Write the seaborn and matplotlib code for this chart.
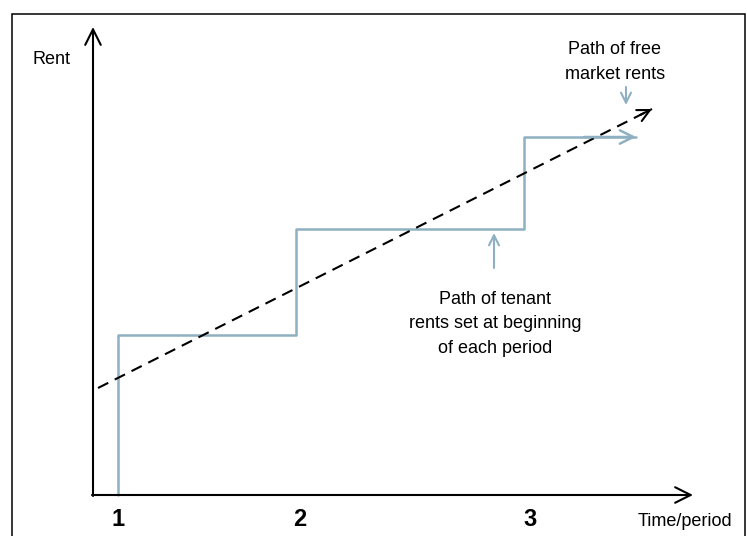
import numpy as np
import pandas as pd
import matplotlib.pyplot as plt
import matplotlib.patches as patches
import seaborn as sns

# data (units: time along x-axis, rent above x-axis)
step_time = [25, 25, 203, 203, 431, 431, 543]
step_rent = [0, 160, 160, 266, 266, 358, 358]
market_time = [5, 559]
market_rent = [107, 386]
period_labels = ['1', '2', '3']
period_pos = [25, 207, 437]

sns.set_theme(style='white')
plt.rcParams['font.family'] = ['Liberation Sans', 'DejaVu Sans']
plt.rcParams['text.color'] = 'black'

blue = '#8fb0c1'

fig = plt.figure(figsize=(7.47, 5.36), dpi=100)
ax = fig.add_axes([0, 0, 1, 1])
ax.set_xlim(-93, 654)
ax.set_ylim(-41, 495)
ax.axis('off')

# outer frame
fig.patches.append(patches.Rectangle((12 / 747, -0.01), (745 - 12) / 747, 1.01 - 14 / 536,
                                     transform=fig.transFigure, fill=False,
                                     edgecolor='black', linewidth=1.1))

# axes arrows
arr = dict(arrowstyle='->', color='black', lw=1.5, mutation_scale=28, shrinkA=0, shrinkB=0)
ax.annotate('', xy=(0, 468), xytext=(0, -1), arrowprops=arr)
ax.annotate('', xy=(600, 0), xytext=(-1, 0), arrowprops=arr)

# tenant rent path (step)
steps = pd.DataFrame({'time': step_time, 'rent': step_rent})
sns.lineplot(data=steps, x='time', y='rent', sort=False, estimator=None, color=blue,
             lw=1.8, ax=ax)
ax.annotate('', xy=(step_time[-1], step_rent[-1]), xytext=(step_time[-2] + 60, step_rent[-2]),
            arrowprops=dict(arrowstyle='->', color=blue, lw=1.8, mutation_scale=24,
                            shrinkA=0, shrinkB=0))

# free market path (dashed)
market = pd.DataFrame({'time': market_time, 'rent': market_rent})
sns.lineplot(data=market, x='time', y='rent', estimator=None, color='black', lw=1.5, ax=ax,
             linestyle=(0, (5.5, 3.5)))
slope = (market_rent[1] - market_rent[0]) / (market_time[1] - market_time[0])
ax.annotate('', xy=(market_time[1], market_rent[1]),
            xytext=(market_time[1] - 12, market_rent[1] - 12 * slope),
            arrowprops=dict(arrowstyle='->', color='black', lw=1.5, mutation_scale=22,
                            shrinkA=0, shrinkB=0))

# text
fs = 13
ax.text(-41, 435, 'Rent', ha='center', va='center', fontsize=fs)
ax.text(522, 433, 'Path of free\nmarket rents', ha='center', va='center', fontsize=fs,
        linespacing=1.6)
ax.annotate('', xy=(533, 390), xytext=(533, 408),
            arrowprops=dict(arrowstyle='->', color=blue, lw=1.5, mutation_scale=18,
                            shrinkA=0, shrinkB=0))
ax.text(402, 171, 'Path of tenant\nrents set at beginning\nof each period', ha='center',
        va='center', fontsize=fs, linespacing=1.6)
ax.annotate('', xy=(401, 262), xytext=(401, 227),
            arrowprops=dict(arrowstyle='->', color=blue, lw=1.5, mutation_scale=18,
                            shrinkA=0, shrinkB=0))

for lab, pos in zip(period_labels, period_pos):
    ax.text(pos, -25, lab, ha='center', va='center', fontsize=17, fontweight='bold')
ax.text(592, -27, 'Time/period', ha='center', va='center', fontsize=fs)

plt.savefig('out.png', dpi=100)
